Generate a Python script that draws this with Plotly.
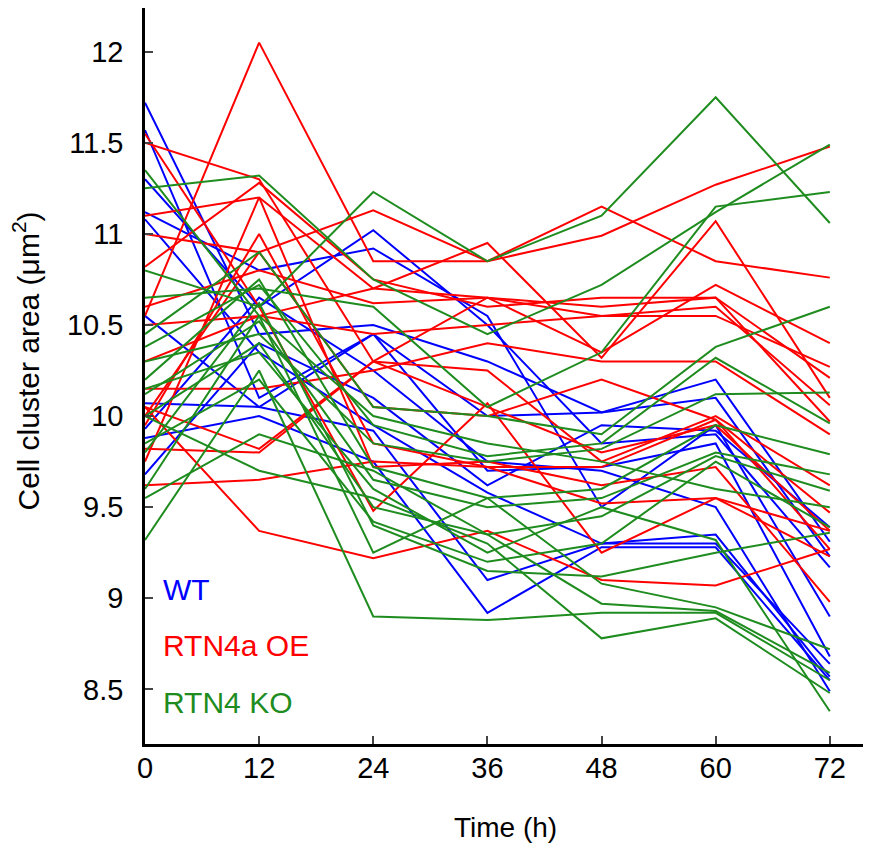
import plotly.graph_objects as go

time_h = [0, 12, 24, 36, 48, 60, 72]

wt_lines = [
    [11.72, 10.45, 10.50, 10.30, 10.02, 10.20, 9.31],
    [11.57, 10.10, 10.45, 10.00, 10.02, 10.10, 9.23],
    [11.30, 10.60, 11.02, 10.50, 9.85, 9.90, 9.17],
    [11.12, 10.80, 10.92, 10.55, 9.50, 9.95, 8.90],
    [11.08, 10.35, 9.95, 9.58, 9.30, 9.30, 8.64],
    [10.55, 10.05, 10.45, 9.70, 9.72, 9.85, 8.68],
    [10.07, 10.05, 9.92, 9.10, 9.30, 9.35, 8.57],
    [9.93, 10.65, 10.25, 9.75, 9.70, 9.50, 8.49],
    [9.88, 10.00, 9.75, 8.92, 9.28, 9.28, 8.55],
    [9.68, 10.40, 10.10, 9.62, 9.95, 9.92, 9.39],
]

oe_lines = [
    [10.55, 12.05, 10.85, 10.85, 10.99, 11.27, 11.48],
    [11.50, 11.30, 10.30, 10.05, 9.80, 9.95, 9.37],
    [11.10, 11.20, 10.70, 10.65, 10.55, 10.60, 10.06],
    [11.00, 10.90, 11.13, 10.85, 11.15, 10.85, 10.76],
    [10.82, 11.28, 10.75, 10.60, 10.65, 10.65, 10.21],
    [10.60, 10.80, 10.62, 10.65, 10.35, 10.72, 10.40],
    [10.50, 10.55, 10.70, 10.95, 10.32, 11.07, 10.10],
    [10.30, 10.55, 10.45, 10.50, 10.55, 10.55, 10.27],
    [10.15, 10.15, 10.25, 10.40, 10.30, 10.30, 9.90],
    [10.05, 9.82, 10.30, 10.65, 10.60, 10.65, 9.97],
    [10.00, 10.90, 10.05, 10.00, 10.20, 9.98, 9.47],
    [9.95, 11.00, 9.85, 9.72, 9.72, 9.98, 9.27],
    [9.82, 9.80, 10.30, 10.25, 9.75, 10.00, 9.62],
    [9.75, 11.20, 9.72, 9.75, 9.62, 9.72, 8.98],
    [9.62, 9.65, 9.75, 9.72, 9.52, 9.55, 9.23],
    [10.05, 9.37, 9.22, 9.37, 9.10, 9.07, 9.27],
    [11.55, 10.60, 9.48, 10.07, 9.25, 9.55, 9.37],
]

ko_lines = [
    [11.35, 10.55, 10.00, 9.85, 9.75, 9.60, 9.50],
    [11.25, 11.32, 10.75, 10.45, 10.72, 11.12, 11.49],
    [10.80, 10.60, 11.23, 10.85, 11.10, 11.75, 11.06],
    [10.65, 10.70, 10.60, 10.05, 10.35, 11.15, 11.23],
    [10.45, 10.90, 10.05, 10.00, 9.90, 10.38, 10.60],
    [10.38, 10.72, 9.95, 9.78, 9.85, 10.32, 9.96],
    [10.30, 10.45, 9.85, 9.75, 9.82, 10.12, 10.13],
    [10.20, 10.75, 9.72, 9.55, 9.60, 9.95, 9.79],
    [10.12, 10.52, 9.65, 9.50, 9.55, 9.80, 9.68],
    [10.00, 10.40, 9.50, 9.35, 9.45, 9.78, 9.59],
    [9.85, 10.20, 9.42, 9.20, 9.30, 9.75, 9.39],
    [9.80, 10.62, 9.40, 9.15, 9.12, 9.25, 9.36],
    [9.60, 10.55, 9.25, 9.55, 9.08, 8.95, 8.72],
    [9.55, 9.90, 9.70, 9.35, 8.97, 8.93, 8.59],
    [9.32, 10.25, 8.90, 8.88, 8.92, 8.92, 8.55],
    [10.00, 9.70, 9.55, 9.30, 8.78, 8.89, 8.48],
    [10.15, 10.35, 9.60, 9.25, 9.50, 9.32, 8.38],
]

groups = [
    ("WT", wt_lines, "#0000ff"),
    ("RTN4a OE", oe_lines, "#ff0000"),
    ("RTN4 KO", ko_lines, "#1e8c1e"),
]

FONT = "Liberation Sans, Arial, Helvetica"

fig = go.Figure()
for name, lines, color in groups:
    for vals in lines:
        fig.add_trace(go.Scatter(x=time_h, y=vals, mode="lines", name=name,
                                 line=dict(color=color, width=2), showlegend=False))

# group labels in the lower left corner of the plot
label_y = [9.05, 8.74, 8.43]
for (name, _, color), yy in zip(groups, label_y):
    fig.add_annotation(x=1.7, y=yy, xref="x", yref="y", text=name, showarrow=False,
                       xanchor="left", yanchor="middle",
                       font=dict(size=30, color=color, family=FONT))

# axis titles placed by hand
fig.add_annotation(x=0.501, y=-0.113, xref="paper", yref="paper", text="Time (h)",
                   showarrow=False, xanchor="center", yanchor="middle",
                   font=dict(size=28, color="black", family=FONT))
fig.add_annotation(x=-0.165, y=0.52, xref="paper", yref="paper",
                   text="Cell cluster area (μm<sup>2</sup>)", textangle=-90,
                   showarrow=False, xanchor="center", yanchor="middle",
                   font=dict(size=30, color="black", family=FONT))

fig.update_xaxes(range=[0, 75.7], tickvals=time_h, ticks="inside", ticklen=8, tickwidth=2,
                 showline=True, linecolor="black", linewidth=2.5, showgrid=False, zeroline=False,
                 tickfont=dict(size=29, color="black", family=FONT), ticklabelstandoff=-4)
fig.update_yaxes(range=[8.2, 12.24], tickvals=[8.5, 9, 9.5, 10, 10.5, 11, 11.5, 12],
                 ticktext=["8.5", "9", "9.5", "10", "10.5", "11", "11.5", "12"],
                 ticks="inside", ticklen=8, tickwidth=2,
                 showline=True, linecolor="black", linewidth=2.5, showgrid=False, zeroline=False,
                 tickfont=dict(size=29, color="black", family=FONT), ticklabelstandoff=13)

fig.update_layout(width=863, height=843, margin=dict(l=137, r=6, t=0, b=107, autoexpand=False),
                  plot_bgcolor="white", paper_bgcolor="white",
                  font=dict(family=FONT, color="black"))

fig.write_html("out.html")
